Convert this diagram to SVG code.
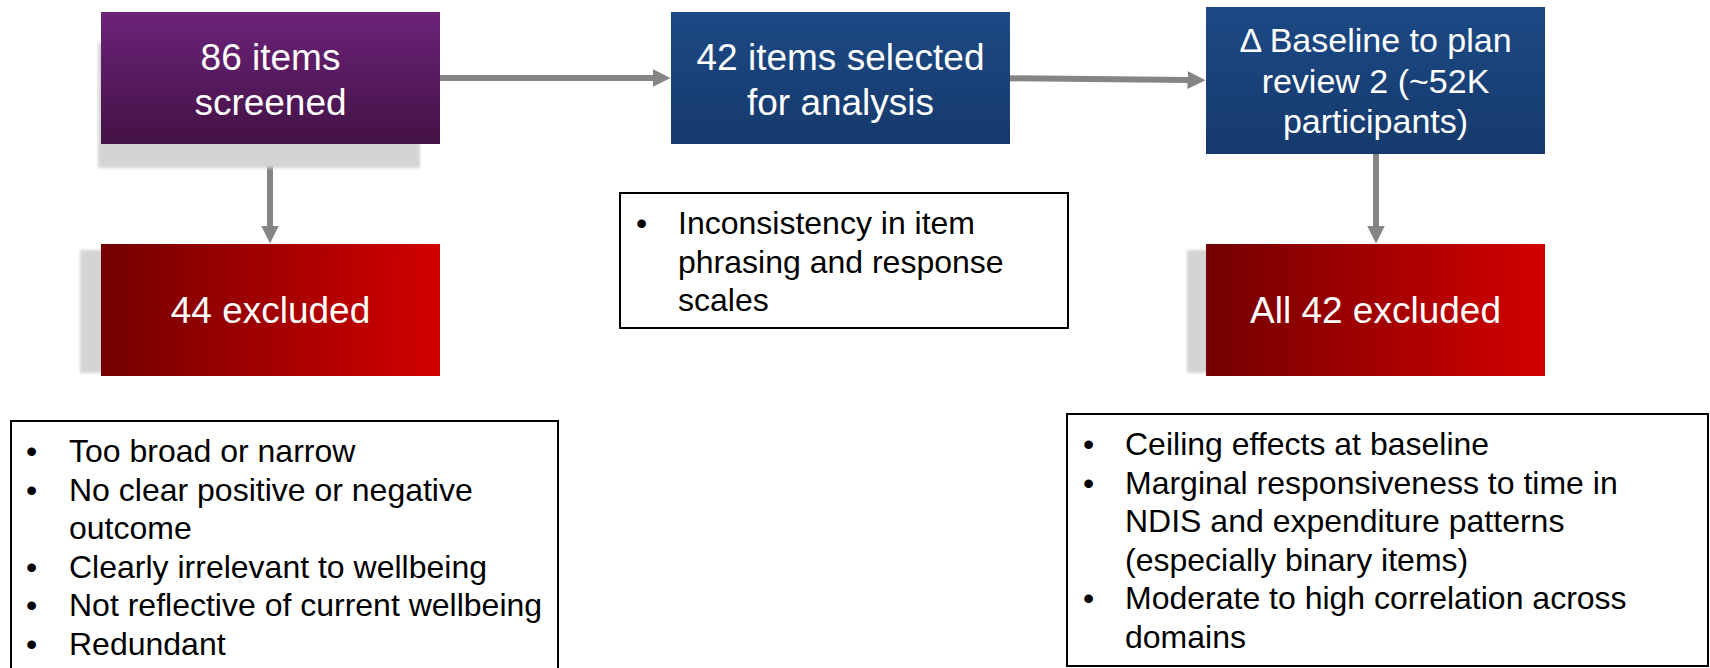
<svg xmlns="http://www.w3.org/2000/svg" width="1710" height="668" viewBox="0 0 1710 668">
  <defs>
    <linearGradient id="gradPurple" x1="0" y1="0" x2="0" y2="1">
      <stop offset="0" stop-color="#6c2379"/>
      <stop offset="1" stop-color="#431245"/>
    </linearGradient>
    <linearGradient id="gradBlue" x1="0" y1="0" x2="0" y2="1">
      <stop offset="0" stop-color="#1c4985"/>
      <stop offset="1" stop-color="#163a6c"/>
    </linearGradient>
    <linearGradient id="gradRed" x1="0" y1="0" x2="1" y2="0">
      <stop offset="0" stop-color="#740000"/>
      <stop offset="1" stop-color="#d20000"/>
    </linearGradient>
    <filter id="soft" x="-10%" y="-10%" width="120%" height="120%">
      <feGaussianBlur stdDeviation="1.5"/>
    </filter>
    <marker id="head" viewBox="0 -9 18 18" markerWidth="18" markerHeight="18" refX="0.5" refY="0" markerUnits="userSpaceOnUse" orient="auto">
      <path d="M0,-9 L18,0 L0,9 z" fill="#858585"/>
    </marker>
    <style>
      .shadow { fill: #d4d4d4; filter: url(#soft); }
      .title { font-family: "Liberation Sans", Arial, sans-serif; font-size: 37px; fill: #ffffff; text-anchor: middle; }
      .title.small { font-size: 34px; }
      .note { fill: #ffffff; stroke: #000000; stroke-width: 2; }
      .body { font-family: "Liberation Sans", Arial, sans-serif; font-size: 32px; fill: #000000; }
      .conn { stroke: #858585; stroke-width: 6; fill: none; marker-end: url(#head); }
    </style>
  </defs>

  <rect width="1710" height="668" fill="#ffffff"/>

  <!-- connectors -->
  <g id="connectors">
    <line class="conn" x1="440" y1="78" x2="653" y2="78"/>
    <line class="conn" x1="1010" y1="78.3" x2="1188" y2="80"/>
    <line class="conn" x1="270" y1="144" x2="270" y2="226"/>
    <line class="conn" x1="1376" y1="154" x2="1376" y2="226"/>
  </g>

  <g id="screened">
    <rect class="shadow" x="98" y="43" width="322" height="125"/>
    <rect x="101" y="12" width="339" height="132" fill="url(#gradPurple)"/>
    <text class="title" x="270.5" y="70">86 items</text>
    <text class="title" x="270.5" y="115">screened</text>
  </g>

  <g id="selected">
    <rect x="671" y="12" width="339" height="132" fill="url(#gradBlue)"/>
    <text class="title" x="840.5" y="70">42 items selected</text>
    <text class="title" x="840.5" y="115">for analysis</text>
  </g>

  <g id="baseline-review">
    <rect x="1206" y="7" width="339" height="147" fill="url(#gradBlue)"/>
    <text class="title small" x="1375.5" y="52">Δ Baseline to plan</text>
    <text class="title small" x="1375.5" y="93">review 2 (~52K</text>
    <text class="title small" x="1375.5" y="133">participants)</text>
  </g>

  <g id="excluded-44">
    <rect class="shadow" x="80" y="250" width="60" height="123"/>
    <rect x="101" y="244" width="339" height="132" fill="url(#gradRed)"/>
    <text class="title" x="270.5" y="323">44 excluded</text>
  </g>

  <g id="excluded-all">
    <rect class="shadow" x="1187" y="250" width="60" height="123"/>
    <rect x="1206" y="244" width="339" height="132" fill="url(#gradRed)"/>
    <text class="title" x="1375.5" y="323">All 42 excluded</text>
  </g>

  <g id="note-selected">
    <rect class="note" x="620" y="193" width="448" height="135"/>
    <text class="body" x="636" y="234">•</text>
    <text class="body" x="678" y="234">Inconsistency in item</text>
    <text class="body" x="678" y="272.5">phrasing and response</text>
    <text class="body" x="678" y="311">scales</text>
  </g>

  <g id="note-screened">
    <rect class="note" x="11" y="421" width="547" height="260"/>
    <text class="body" x="26" y="462">•</text>
    <text class="body" x="69" y="462">Too broad or narrow</text>
    <text class="body" x="26" y="500.5">•</text>
    <text class="body" x="69" y="500.5">No clear positive or negative</text>
    <text class="body" x="69" y="539">outcome</text>
    <text class="body" x="26" y="577.5">•</text>
    <text class="body" x="69" y="577.5">Clearly irrelevant to wellbeing</text>
    <text class="body" x="26" y="616">•</text>
    <text class="body" x="69" y="616">Not reflective of current wellbeing</text>
    <text class="body" x="26" y="654.5">•</text>
    <text class="body" x="69" y="654.5">Redundant</text>
  </g>

  <g id="note-review">
    <rect class="note" x="1067" y="414" width="641" height="252"/>
    <text class="body" x="1083" y="455">•</text>
    <text class="body" x="1125" y="455">Ceiling effects at baseline</text>
    <text class="body" x="1083" y="493.5">•</text>
    <text class="body" x="1125" y="493.5">Marginal responsiveness to time in</text>
    <text class="body" x="1125" y="532">NDIS and expenditure patterns</text>
    <text class="body" x="1125" y="570.5">(especially binary items)</text>
    <text class="body" x="1083" y="609">•</text>
    <text class="body" x="1125" y="609">Moderate to high correlation across</text>
    <text class="body" x="1125" y="647.5">domains</text>
  </g>
</svg>
